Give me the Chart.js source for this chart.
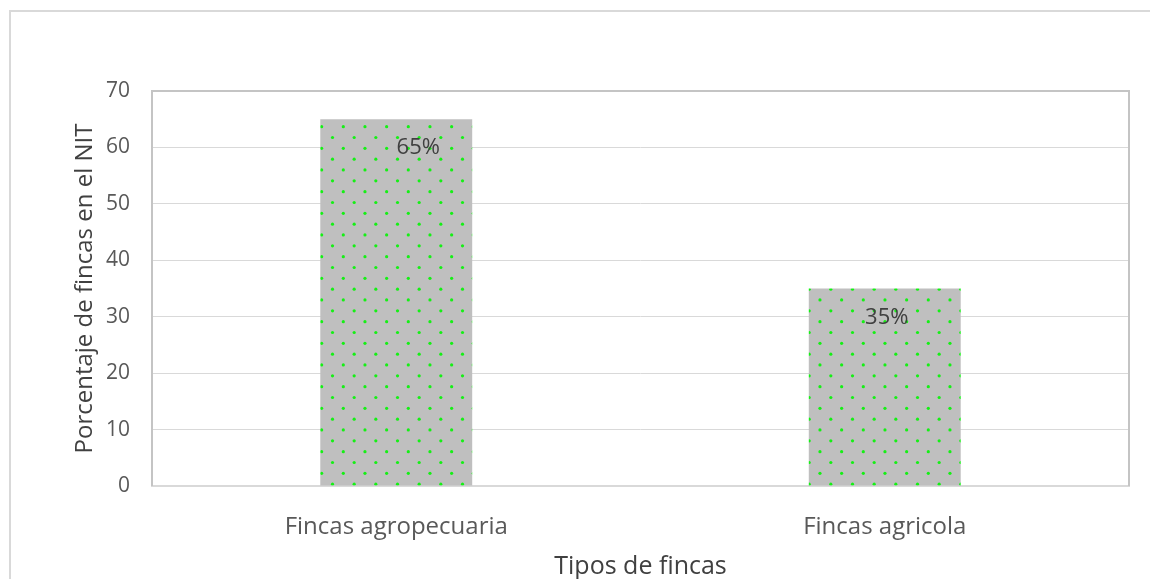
<!DOCTYPE html>
<html>
<head>
<meta charset="utf-8">
<script src="https://cdn.jsdelivr.net/npm/chart.js@4"></script>
<style>
  html, body { margin: 0; padding: 0; background: #fff; }
  #wrap { width: 1150px; height: 579px; }
</style>
</head>
<body>
<div id="wrap"><canvas id="fincasChart" width="1150" height="579"></canvas></div>
<script>
const categories = ["Fincas agropecuaria", "Fincas agricola"];
const porcentajes = [65, 35];
const yTicks = [0, 10, 20, 30, 40, 50, 60, 70];

// gray fill with green dots, like the office "dotted" pattern
function dotPattern(ctx) {
  const tile = document.createElement("canvas");
  tile.width = 65;
  tile.height = 65;
  const t = tile.getContext("2d");
  t.fillStyle = "#bfbfbf";
  t.fillRect(0, 0, 65, 65);
  t.fillStyle = "#14f014";
  const step = 65 / 3;
  for (let i = 0; i < 3; i++) {
    for (let j = 0; j < 3; j++) {
      [[18.3, 18.3], [7.5, 7.5]].forEach(([ox, oy]) => {
        t.beginPath();
        t.arc(ox + i * step, oy + j * step, 1.6, 0, Math.PI * 2);
        t.fill();
      });
    }
  }
  return ctx.createPattern(tile, "repeat");
}

// small horizontal nudge for each value label
const labelShift = [22, 2];

const frame = {
  id: "frame",
  beforeDraw(chart) {
    const c = chart.ctx;
    c.save();
    c.strokeStyle = "#d9d9d9";
    c.lineWidth = 2;
    c.strokeRect(10, 11, chart.width + 20, chart.height + 20);
    c.restore();
  },
  beforeDatasetsDraw(chart) {
    const c = chart.ctx;
    const a = chart.chartArea;
    c.save();
    c.strokeStyle = "#c4c4c4";
    c.lineWidth = 2;
    c.beginPath();
    c.moveTo(a.left, a.bottom);
    c.lineTo(a.left, a.top);
    c.lineTo(a.right, a.top);
    c.lineTo(a.right, a.bottom);
    c.stroke();
    c.restore();
  },
  afterDatasetsDraw(chart) {
    const c = chart.ctx;
    const meta = chart.getDatasetMeta(0);
    c.save();
    c.font = "22px 'Open Sans'";
    c.fillStyle = "#404040";
    c.textAlign = "center";
    c.textBaseline = "middle";
    meta.data.forEach((bar, i) => {
      c.fillText(porcentajes[i] + "%", bar.x + labelShift[i], bar.y + 29);
    });
    c.restore();
  }
};

const ctx = document.getElementById("fincasChart").getContext("2d");
new Chart(ctx, {
  type: "bar",
  data: {
    labels: categories,
    datasets: [{
      data: porcentajes,
      backgroundColor: dotPattern(ctx),
      borderWidth: 0,
      categoryPercentage: 0.311,
      barPercentage: 1
    }]
  },
  options: {
    responsive: false,
    animation: false,
    layout: { padding: { left: 0, top: 91, right: 21, bottom: 0 } },
    plugins: {
      legend: { display: false },
      tooltip: { enabled: false }
    },
    scales: {
      x: {
        grid: { display: false, drawTicks: false },
        border: { color: "#d9d9d9", width: 2 },
        ticks: {
          color: "#595959",
          padding: 27,
          font: { family: "'Open Sans'", size: 24 }
        },
        title: {
          display: true,
          text: "Tipos de fincas",
          color: "#404040",
          padding: 0,
          font: { family: "'Open Sans'", size: 25, lineHeight: 1 }
        },
        afterFit(scale) { scale.height = 93; }
      },
      y: {
        min: 0,
        max: 70,
        afterBuildTicks(scale) { scale.ticks = yTicks.map(v => ({ value: v })); },
        grid: { color: "#d9d9d9", lineWidth: 1, drawTicks: false },
        border: { display: false },
        ticks: {
          color: "#595959",
          padding: 22,
          font: { family: "'Open Sans'", size: 21 }
        },
        title: {
          display: true,
          text: "Porcentaje de fincas en el NIT",
          color: "#404040",
          padding: { top: 73, bottom: 0 },
          font: { family: "'Open Sans'", size: 24, lineHeight: 1 }
        },
        afterFit(scale) { scale.width = 152; }
      }
    }
  },
  plugins: [frame]
});
</script>
</body>
</html>
